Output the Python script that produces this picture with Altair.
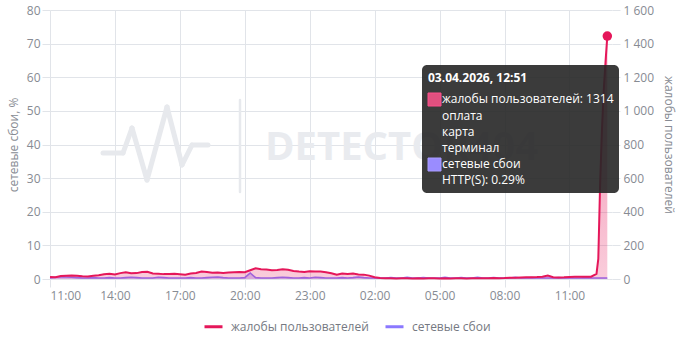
import altair as alt
import pandas as pd

S_COMPL = "жалобы пользователей"
S_FAIL = "сетевые сбои"
PINK = "#e5175a"
PURPLE = "#8b78ff"
GRID = "#e1e4e9"
LABEL = "#878b93"
FONT = "Open Sans"

# complaints, every 15 min from 02.04.2026 11:00
complaints = [
    12, 10, 18, 20, 21, 19, 16, 15, 20, 22, 28, 31, 27, 35, 40, 34,
    35, 42, 43, 33, 31, 29, 30, 31, 28, 25, 33, 36, 45, 42, 37, 38,
    36, 38, 40, 42, 40, 52, 64, 58, 56, 52, 54, 58, 55, 48, 44, 42,
    46, 45, 44, 40, 34, 25, 32, 30, 32, 27, 26, 20, 10, 6, 4, 5,
    3, 4, 5, 3, 4, 3, 5, 4, 3, 4, 3, 5, 4, 3, 4, 5,
    4, 5, 6, 5, 6, 8, 7, 9, 10, 11, 12, 14, 20, 10, 9, 10,
    12, 14, 13, 13, 14, 30,
]
spike_times = ["2026-04-03 12:20", "2026-04-03 12:25", "2026-04-03 12:30",
               "2026-04-03 12:35", "2026-04-03 12:40", "2026-04-03 12:45"]
spike_values = [120, 560, 880, 1120, 1290, 1445]

# network failures %, every 15 min from 02.04.2026 11:00
failures = [
    0.3, 0.5, 0.7, 0.6, 0.5, 0.4, 0.3, 0.3, 0.4, 0.3, 0.3, 0.4,
    0.3, 0.3, 0.4, 0.5, 0.4, 0.3, 0.3, 0.3, 0.5, 0.4, 0.3, 0.3,
    0.3, 0.3, 0.4, 0.3, 0.3, 0.4, 0.5, 0.6, 0.4, 0.3, 0.3, 0.3,
    0.4, 1.8, 0.4, 0.3, 0.3, 0.3, 0.4, 0.5, 0.4, 0.3, 0.3, 0.4,
    0.3, 0.5, 0.4, 0.3, 0.3, 0.3, 0.4, 0.3, 0.4, 0.6, 0.4, 0.3,
    0.3, 0.3, 0.3, 0.4, 0.3, 0.3, 0.5, 0.3, 0.3, 0.4, 0.3, 0.3,
    0.3, 0.5, 0.3, 0.3, 0.4, 0.3, 0.3, 0.5, 0.3, 0.3, 0.4, 0.3,
    0.3, 0.3, 0.5, 0.3, 0.3, 0.4, 0.3, 0.3, 0.3, 0.3, 0.4, 0.3,
    0.3, 0.3, 0.3, 0.4, 0.3, 0.3, 0.3, 0.29,
]

tick_hours = [(2, 11), (2, 14), (2, 17), (2, 20), (2, 23), (3, 2), (3, 5), (3, 8), (3, 11)]

tooltip_title = "03.04.2026, 12:51"
tooltip_lines = ["жалобы пользователей: 1314", "оплата", "карта", "терминал",
                 "сетевые сбои", "HTTP(S): 0.29%"]

t_c = pd.date_range("2026-04-02 11:00", periods=len(complaints), freq="15min").append(
    pd.to_datetime(spike_times))
df_c = pd.DataFrame({"time": t_c, "value": complaints + spike_values, "series": S_COMPL})
df_f = pd.DataFrame({
    "time": pd.date_range("2026-04-02 11:00", periods=len(failures), freq="15min"),
    "value": failures, "series": S_FAIL})
df_last = df_c.tail(1)

x_enc = alt.X(
    "time:T",
    scale=alt.Scale(domain=[alt.DateTime(year=2026, month=4, date=2, hours=11),
                            alt.DateTime(year=2026, month=4, date=3, hours=12, minutes=58)]),
    axis=alt.Axis(values=[alt.DateTime(year=2026, month=4, date=d, hours=h) for d, h in tick_hours],
                  format="%H:%M", title=None, grid=True, gridColor=GRID, domain=False,
                  tickColor=GRID, tickSize=8, labelPadding=3, labelColor=LABEL,
                  labelFont=FONT, labelFontSize=12),
)

y_f = alt.Y("value:Q", scale=alt.Scale(domain=[0, 80], nice=False),
            axis=alt.Axis(orient="left", values=list(range(0, 81, 10)), title="сетевые сбои, %",
                          grid=True, gridColor=GRID, domain=False, tickColor=GRID, tickSize=8,
                          labelPadding=2, labelColor=LABEL, labelFont=FONT, labelFontSize=12,
                          titleColor=LABEL, titleFont=FONT, titleFontSize=12,
                          titleFontWeight="normal", titlePadding=6))
y_c = alt.Y("value:Q", scale=alt.Scale(domain=[0, 1600], nice=False),
            axis=alt.Axis(orient="right", values=list(range(0, 1601, 200)),
                          title="жалобы пользователей", grid=False, domain=False,
                          tickColor=GRID, tickSize=8, labelPadding=3,
                          labelExpr="replace(format(datum.value, ','), ',', ' ')",
                          labelColor=LABEL, labelFont=FONT, labelFontSize=12,
                          titleColor=LABEL, titleFont=FONT, titleFontSize=12,
                          titleFontWeight="normal", titlePadding=8))

color_enc = alt.Color("series:N",
                      scale=alt.Scale(domain=[S_COMPL, S_FAIL], range=[PINK, PURPLE]),
                      legend=alt.Legend(orient="none", direction="horizontal", title=None,
                                        legendX=153, legendY=306, symbolType="stroke",
                                        symbolSize=324, symbolStrokeWidth=3, labelOffset=7,
                                        columnPadding=10, padding=0, labelFont=FONT,
                                        labelFontSize=12, labelColor="#757982"))

fail_layer = alt.layer(
    alt.Chart(df_f).mark_area(color=PURPLE, opacity=0.35).encode(x=x_enc, y=y_f),
    alt.Chart(df_f).mark_line(strokeWidth=1.6).encode(x=x_enc, y=y_f, color=color_enc),
)

grad = alt.Gradient(gradient="linear",
                    stops=[alt.GradientStop(color="rgba(229,23,90,0.5)", offset=0),
                           alt.GradientStop(color="rgba(229,23,90,0.22)", offset=1)],
                    x1=1, x2=1, y1=0, y2=1)
compl_layer = alt.layer(
    alt.Chart(df_c).mark_area(color=grad).encode(x=x_enc, y=y_c),
    alt.Chart(df_c).mark_line(strokeWidth=2).encode(x=x_enc, y=y_c, color=color_enc),
    alt.Chart(df_last).mark_point(filled=True, size=90, opacity=1, color=PINK).encode(x=x_enc, y=y_c),
)

one = pd.DataFrame({"k": [0]})


def rule(x1, y1, x2, y2, color, width):
    return alt.Chart(one).mark_rule(color=color, strokeWidth=width, strokeCap="round").encode(
        x=alt.value(x1), y=alt.value(y1), x2=alt.value(x2), y2=alt.value(y2))


def text(x, y, s, **kw):
    return alt.Chart(one).mark_text(align="left", baseline="middle", font=FONT, **kw).encode(
        x=alt.value(x), y=alt.value(y), text=alt.value(s))


WM = "#e7e9ed"
logo = [(53, 143), (73, 143), (82, 118), (97, 170), (117, 97), (132, 155), (142, 135), (158, 135)]
wm_layers = [rule(a[0], a[1], b[0], b[1], WM, 5) for a, b in zip(logo[:-1], logo[1:])]
wm_layers.append(rule(190, 90, 190, 182, WM, 2.5))
wm_layers.append(alt.Chart(one).mark_text(align="left", baseline="alphabetic", font=FONT,
                                          fontSize=40, fontWeight="bold", color="#e9ebef").encode(
    x=alt.value(215), y=alt.value(150), text=alt.value("DETECTOR404")))

tip_layers = [
    alt.Chart(one).mark_rect(color="#262626", opacity=0.9, cornerRadius=5).encode(
        x=alt.value(372), x2=alt.value(569), y=alt.value(55), y2=alt.value(183)),
    text(378, 68, tooltip_title, fontSize=12, fontWeight="bold", color="white"),
    alt.Chart(one).mark_rect(color="#e0507f", stroke="#ff4f8c", strokeWidth=1).encode(
        x=alt.value(378), x2=alt.value(391), y=alt.value(83), y2=alt.value(96)),
    alt.Chart(one).mark_rect(color="#9a8cff", stroke="#a99cff", strokeWidth=1).encode(
        x=alt.value(378), x2=alt.value(391), y=alt.value(148), y2=alt.value(161)),
]
for i, (s, yy) in enumerate(zip(tooltip_lines, [89, 105.7, 121.7, 137.7, 154, 170.3])):
    tip_layers.append(text(392, yy, s, fontSize=12, color="white"))

chart = alt.layer(*wm_layers, fail_layer, compl_layer, *tip_layers).resolve_scale(
    y="independent").properties(
    width=562, height=269,
    padding={"left": 50, "top": 10, "right": 68, "bottom": 61},
    autosize=alt.AutoSizeParams(type="none"),
    background="white",
).configure_view(stroke=None)

chart.save("out.html", embed_options={"renderer": "svg", "actions": False})
